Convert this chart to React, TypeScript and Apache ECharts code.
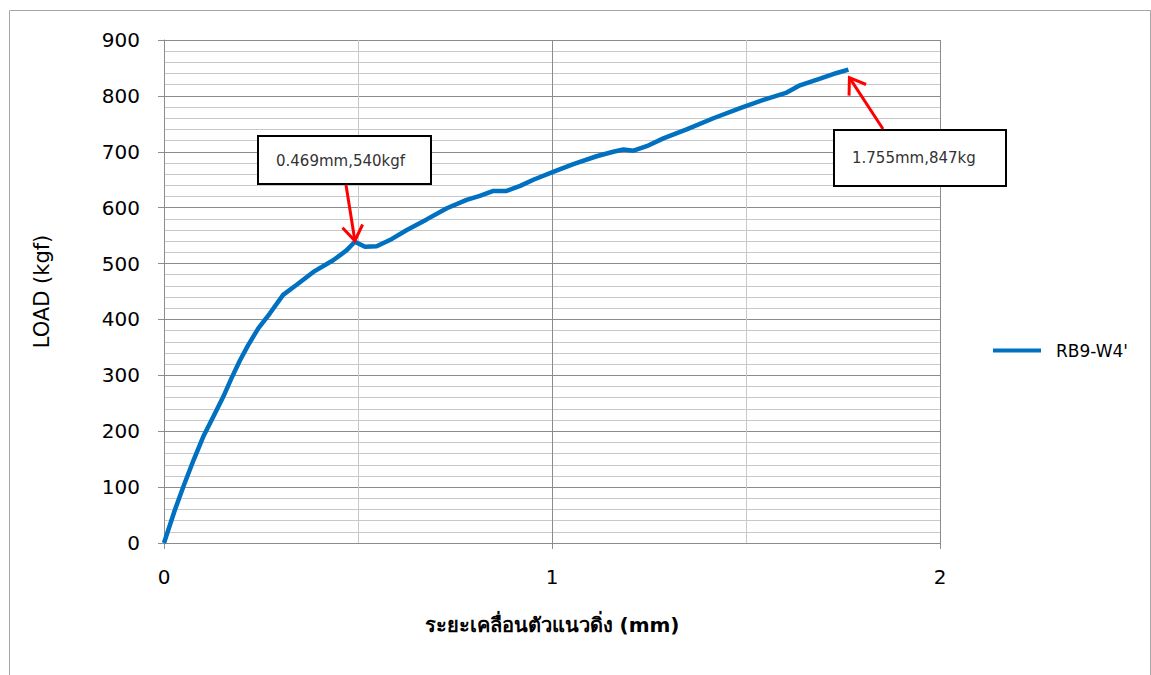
import React, { useEffect, useRef } from "react";
import * as echarts from "echarts";

const seriesName = "RB9-W4'";
const displacement = [
  0, 0.028, 0.05, 0.076, 0.101, 0.127, 0.153, 0.174, 0.196, 0.217, 0.243, 0.273,
  0.307, 0.342, 0.385, 0.436, 0.454, 0.471, 0.492, 0.518, 0.548, 0.582, 0.626,
  0.677, 0.729, 0.78, 0.814, 0.849, 0.883, 0.918, 0.952, 1.003, 1.055, 1.115,
  1.158, 1.184, 1.21, 1.244, 1.287, 1.347, 1.416, 1.485, 1.545, 1.605, 1.639,
  1.691, 1.734, 1.764,
];
const load = [
  0, 59, 101, 148, 190, 226, 262, 295, 327, 354, 384, 411, 444, 462, 485, 506,
  515, 524, 539, 530, 531, 542, 560, 579, 599, 614, 621, 630, 630, 639, 650, 664,
  678, 692, 700, 704, 702, 710, 724, 740, 760, 778, 793, 806, 819, 831, 841, 847,
];
const annotationTexts = ["0.469mm,540kgf", "1.755mm,847kg"];
const annotationPoints = [
  [0.492, 539],
  [1.764, 847],
];
const xTitle = "ระยะเคลื่อนตัวแนวดิ่ง (mm)";
const yTitle = "LOAD (kgf)";

const FONT = "'DejaVu Sans', 'Noto Sans', sans-serif";

function arrowHead(x1: number, y1: number, x2: number, y2: number, len: number, ang: number) {
  const dx = x2 - x1;
  const dy = y2 - y1;
  const d = Math.hypot(dx, dy);
  const ux = dx / d;
  const uy = dy / d;
  const rot = (a: number) => [
    x2 - len * (ux * Math.cos(a) - uy * Math.sin(a)),
    y2 - len * (ux * Math.sin(a) + uy * Math.cos(a)),
  ];
  return [rot(ang), [x2, y2], rot(-ang)];
}

export default function App() {
  const ref = useRef<HTMLDivElement>(null);
  useEffect(() => {
    if (!ref.current) return;
    const chart = echarts.init(ref.current, undefined, { renderer: "svg" });
    const data = displacement.map((x, i) => [x, load[i]]);
    chart.setOption({
      animation: false,
      backgroundColor: "#fff",
      grid: { left: 164, top: 40, width: 776, height: 503, containLabel: false },
      legend: {
        data: [seriesName],
        left: 988,
        top: 337,
        icon: "rect",
        itemWidth: 48,
        itemHeight: 4,
        textStyle: { fontFamily: FONT, fontSize: 17, color: "#000", padding: [0, 0, 0, 10] },
      },
      xAxis: {
        type: "value",
        min: 0,
        max: 2,
        interval: 1,
        name: xTitle,
        nameLocation: "middle",
        nameGap: 72,
        nameTextStyle: { fontFamily: FONT, fontSize: 20, fontWeight: "bold", color: "#000" },
        axisLine: { show: true, onZero: false, lineStyle: { color: "#8c8c8c", width: 1 } },
        axisTick: { show: true, length: 6, lineStyle: { color: "#8c8c8c" } },
        axisLabel: { margin: 24, fontFamily: FONT, fontSize: 20, color: "#000" },
        splitLine: { show: true, lineStyle: { color: "#8c8c8c", width: 1 } },
        minorTick: { show: false, splitNumber: 2 },
        minorSplitLine: { show: true, lineStyle: { color: "#c8c8c8", width: 1 } },
      },
      yAxis: {
        type: "value",
        min: 0,
        max: 900,
        interval: 100,
        name: yTitle,
        nameLocation: "middle",
        nameGap: 112,
        nameTextStyle: { fontFamily: FONT, fontSize: 21, fontWeight: "normal", color: "#000" },
        axisLine: { show: true, lineStyle: { color: "#8c8c8c", width: 1 } },
        axisTick: { show: true, length: 6, lineStyle: { color: "#8c8c8c" } },
        axisLabel: { margin: 24, fontFamily: FONT, fontSize: 20, color: "#000" },
        splitLine: { show: true, lineStyle: { color: "#8c8c8c", width: 1 } },
        minorTick: { show: false, splitNumber: 5 },
        minorSplitLine: { show: true, lineStyle: { color: "#c8c8c8", width: 1 } },
      },
      series: [
        {
          name: seriesName,
          type: "line",
          data,
          symbol: "none",
          smooth: false,
          lineStyle: { color: "#0070C0", width: 4.5 },
          itemStyle: { color: "#0070C0" },
        },
      ],
    });

    const p1 = chart.convertToPixel({ gridIndex: 0 }, annotationPoints[0]) as number[];
    const p2 = chart.convertToPixel({ gridIndex: 0 }, annotationPoints[1]) as number[];
    const a1s = [346, 185];
    const a2s = [883, 129];
    const t1 = [p1[0], p1[1] - 1];
    const t2 = [p2[0] + 1, p2[1] + 8];
    const red = "#ff0000";
    chart.setOption({
      graphic: [
        {
          type: "rect",
          silent: true,
          shape: { x: 9.5, y: 10.5, width: 1141, height: 700 },
          style: { fill: "none", stroke: "#a6a6a6", lineWidth: 1 },
          z: 0,
        },
        {
          type: "rect",
          shape: { x: 258, y: 136, width: 173, height: 48 },
          style: { fill: "#fff", stroke: "#000", lineWidth: 2 },
          z: 10,
        },
        {
          type: "text",
          x: 276,
          y: 161,
          style: { text: annotationTexts[0], fontFamily: FONT, fontSize: 15, fill: "#333", textVerticalAlign: "middle" },
          z: 11,
        },
        {
          type: "line",
          shape: { x1: a1s[0], y1: a1s[1], x2: t1[0], y2: t1[1] },
          style: { stroke: red, lineWidth: 3 },
          z: 10,
        },
        {
          type: "polyline",
          shape: { points: arrowHead(a1s[0], a1s[1], t1[0], t1[1], 18, 0.6) },
          style: { stroke: red, lineWidth: 3, fill: "none" },
          z: 10,
        },
        {
          type: "rect",
          shape: { x: 834, y: 130, width: 172, height: 56 },
          style: { fill: "#fff", stroke: "#000", lineWidth: 2 },
          z: 10,
        },
        {
          type: "text",
          x: 852,
          y: 158,
          style: { text: annotationTexts[1], fontFamily: FONT, fontSize: 15, fill: "#333", textVerticalAlign: "middle" },
          z: 11,
        },
        {
          type: "line",
          shape: { x1: a2s[0], y1: a2s[1], x2: t2[0], y2: t2[1] },
          style: { stroke: red, lineWidth: 3 },
          z: 10,
        },
        {
          type: "polyline",
          shape: { points: arrowHead(a2s[0], a2s[1], t2[0], t2[1], 18, 0.6) },
          style: { stroke: red, lineWidth: 3, fill: "none" },
          z: 10,
        },
      ],
    });
    return () => chart.dispose();
  }, []);
  return (
    <div
      ref={ref}
      style={{ position: "absolute", left: 0, top: 0, width: 1151, height: 675 }}
    />
  );
}
